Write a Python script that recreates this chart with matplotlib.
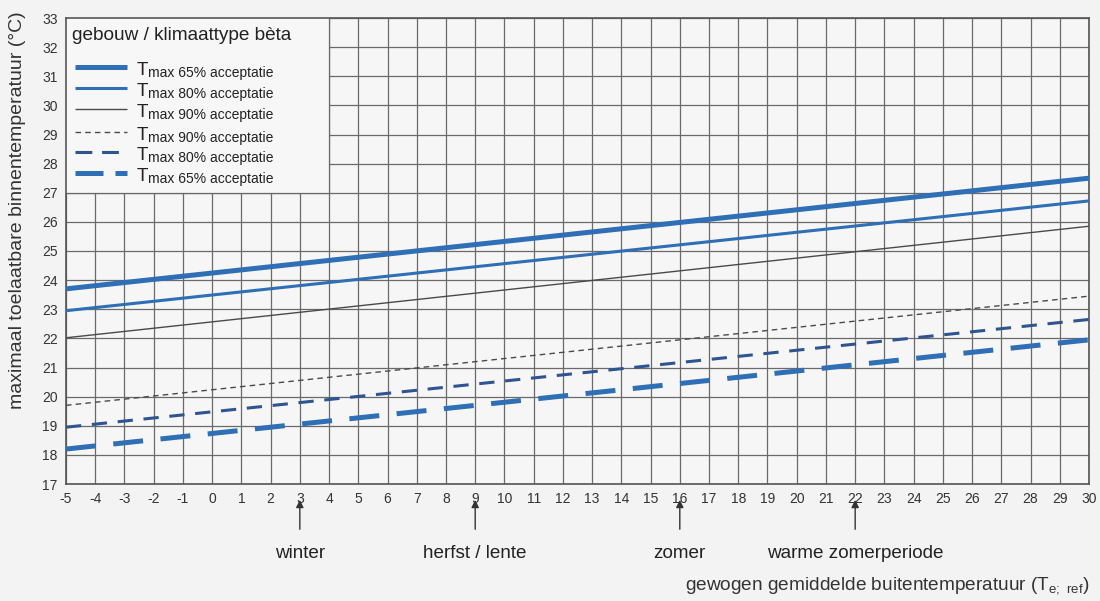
import matplotlib
matplotlib.use("Agg")
import matplotlib.pyplot as plt
import numpy as np
from matplotlib.patches import Rectangle

plt.rcParams['font.family'] = ['Liberation Sans', 'DejaVu Sans']
plt.rcParams['axes.unicode_minus'] = False

# Data
te_ref = [-5, 30]
t_upper_65 = [23.7, 27.5]
t_upper_80 = [22.95, 26.72]
t_upper_90 = [22.02, 25.85]
t_lower_90 = [19.7, 23.45]
t_lower_80 = [18.95, 22.65]
t_lower_65 = [18.2, 21.95]
x_ticks = list(range(-5, 31))
y_ticks = list(range(17, 34))
season_pos = [3, 9, 16, 22]
season_labels = ["winter", "herfst / lente", "zomer", "warme zomerperiode"]
legend_title = "gebouw / klimaattype bèta"
legend_labels = ["max 65% acceptatie", "max 80% acceptatie", "max 90% acceptatie",
                 "max 90% acceptatie", "max 80% acceptatie", "max 65% acceptatie"]

W, H = 1100, 601
fig = plt.figure(figsize=(W / 100, H / 100), dpi=100, facecolor='#f3f3f3')
ax = fig.add_axes([66 / W, 1 - 484 / H, (1089 - 66) / W, (484 - 18) / H])
ax.set_facecolor('#f6f6f6')
ax.set_xlim(-5, 30)
ax.set_ylim(17, 33)
ax.set_xticks(x_ticks)
ax.set_yticks(y_ticks)
ax.tick_params(length=0, labelsize=10, colors='#333333', pad=6)
ax.grid(True, color='#6a6a6a', lw=0.9)
ax.set_axisbelow(True)
for s in ax.spines.values():
    s.set_color('#555555')
    s.set_linewidth(1.2)

blue = '#2e6fb5'
navy = '#2f5590'
grey = '#4a4a4a'
styles = [
    (t_upper_65, dict(color=blue, lw=3.6, ls='-')),
    (t_upper_80, dict(color=blue, lw=2.2, ls='-')),
    (t_upper_90, dict(color=grey, lw=1.0, ls='-')),
    (t_lower_90, dict(color=grey, lw=1.0, ls=(0, (4, 3)))),
    (t_lower_80, dict(color=navy, lw=2.2, ls=(0, (5, 3.5)))),
    (t_lower_65, dict(color=blue, lw=3.6, ls=(0, (6, 3.5)))),
]
legend_ls = ['-', '-', '-', (0, (4, 3)), (0, (5.5, 3.2)), (0, (5.6, 2.4))]
for ys, st in styles:
    ax.plot(te_ref, ys, solid_capstyle='butt', dash_capstyle='butt', zorder=3, **st)

# legend panel (covers grid in upper-left)
ax.add_patch(Rectangle((-5, 27), 9, 6, facecolor='#f7f7f7', edgecolor='none', zorder=2))
ax.plot([4, 4], [27, 33], color='#6a6a6a', lw=0.9, zorder=2.5)
ax.plot([-5, 4], [27, 27], color='#6a6a6a', lw=0.9, zorder=2.5)

def fx(px):
    return px / W

def fy(py):
    return 1 - py / H

fig.text(fx(72), fy(36), legend_title, fontsize=13.7, color='#222222', va='center', ha='left')
rows = [67, 88, 109, 132, 152, 173]
for (ys, st), lls, lab, ry in zip(styles, legend_ls, legend_labels, rows):
    st2 = dict(st)
    st2['ls'] = lls
    line = plt.Line2D([fx(75), fx(127)], [fy(ry), fy(ry)], transform=fig.transFigure,
                      solid_capstyle='butt', dash_capstyle='butt', **st2)
    fig.add_artist(line)
    fig.text(fx(137), fy(ry + 8), "T", fontsize=13.5, color='#222222', va='baseline', ha='left')
    fig.text(fx(148), fy(ry + 10), lab, fontsize=10, color='#222222', va='baseline', ha='left')

# y label
fig.text(fx(18), fy(210), "maximaal toelaatbare binnentemperatuur (°C)", rotation=90,
         fontsize=14, color='#333333', va='center', ha='center')

# season arrows
for xp, lab in zip(season_pos, season_labels):
    ax.annotate("", xy=(xp, 16.55), xytext=(xp, 15.35), xycoords='data', textcoords='data',
                annotation_clip=False,
                arrowprops=dict(arrowstyle='-|>', color='#333333', lw=1.0, mutation_scale=11))
    ax.text(xp, 14.63, lab, fontsize=13.6, color='#222222', ha='center', va='center',
            clip_on=False)

# x label
fig.text(fx(1090), fy(586), "gewogen gemiddelde buitentemperatuur (T$_{\\mathregular{e;\\ ref}}$)",
         fontsize=13.7, color='#333333', ha='right', va='center')

fig.savefig("out.png", dpi=100, facecolor=fig.get_facecolor())
